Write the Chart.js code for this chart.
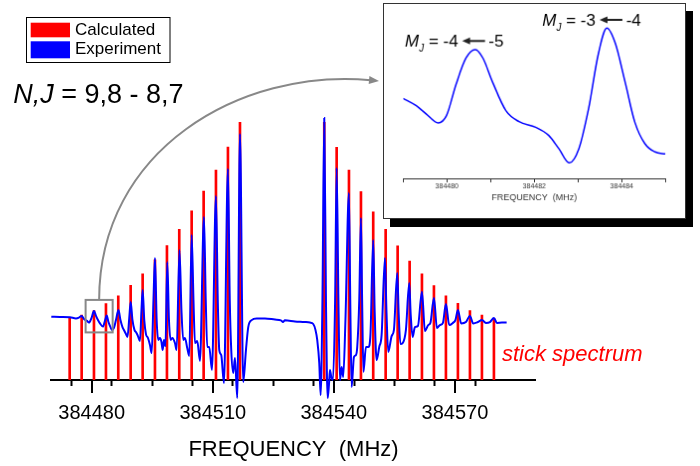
<!DOCTYPE html>
<html>
<head>
<meta charset="utf-8">
<script src="https://cdn.jsdelivr.net/npm/chart.js@4.4.1/dist/chart.umd.min.js"></script>
<style>
  html, body { margin: 0; padding: 0; background: #fff; }
  #wrap { position: relative; width: 700px; height: 466px; overflow: hidden; }
  #main { position: absolute; left: 0; top: 0; display: block; }
  #inset { position: absolute; left: 383px; top: 3px; display: block; background: #fff;
           border: 1px solid #333; box-shadow: 7px 8px 0 #000; }
</style>
</head>
<body>
<div id="wrap">
  <canvas id="main" width="700" height="466"></canvas>
  <canvas id="inset" width="303" height="216"></canvas>
</div>
<script>
// calculated stick spectrum (MHz, relative intensity)
const stickFreq = [
  384474.55, 384477.52, 384480.57, 384483.54, 384486.59, 384489.66, 384492.63, 384495.68,
  384498.65, 384501.70, 384504.77, 384507.74, 384510.79, 384513.76, 384516.74,
  384537.62, 384540.69, 384543.74, 384546.71, 384549.75, 384552.83, 384555.80, 384558.77,
  384561.82, 384564.79, 384567.76, 384570.73, 384573.71, 384576.68, 384579.65
];
const stickCalc = [
  22.0, 23.2, 24.8, 27.3, 30.1, 33.8, 37.9, 42.9, 48.0, 53.8, 60.4, 67.5, 75.0, 83.2, 92.0,
  92.0, 83.1, 75.0, 67.3, 60.1, 53.8, 47.9, 42.5, 37.9, 33.7, 30.1, 27.4, 24.8, 23.2, 22.0
];

// experimental trace
const expFreq = [
  384470.00, 384472.15, 384474.62, 384476.11, 384476.85, 384477.52, 384478.09, 384478.84, 384479.33, 384479.95,
  384480.57, 384481.07, 384481.56, 384482.06, 384482.80, 384483.29, 384483.72, 384484.16, 384484.66, 384485.03,
  384485.52, 384486.02, 384486.64, 384487.13, 384487.63, 384488.12, 384488.50, 384488.87, 384489.31, 384489.66,
  384490.11, 384490.60, 384490.97, 384491.47, 384491.96, 384492.34, 384492.63, 384493.03, 384493.45, 384493.95,
  384494.44, 384494.86, 384495.31, 384495.68, 384496.10, 384496.50, 384496.92, 384497.29, 384497.59, 384497.91,
  384498.28, 384498.73, 384499.15, 384499.57, 384500.01, 384500.63, 384501.05, 384501.75, 384502.24, 384502.69,
  384503.11, 384503.68, 384504.18, 384504.77, 384505.22, 384505.59, 384506.16, 384506.83, 384507.82, 384508.26,
  384508.63, 384509.13, 384509.80, 384510.79, 384511.24, 384511.61, 384512.10, 384512.77, 384513.76, 384514.21,
  384514.58, 384515.07, 384515.50, 384516.07, 384516.74, 384517.55, 384518.22, 384518.79, 384519.63, 384520.87,
  384522.93, 384525.40, 384526.89, 384527.39, 384527.88, 384530.36, 384532.84, 384534.07, 384534.89, 384535.44,
  384535.88, 384536.38, 384536.72, 384537.17, 384537.62, 384538.04, 384538.46, 384538.78, 384539.03, 384539.40,
  384539.77, 384540.31, 384540.69, 384541.13, 384541.50, 384541.93, 384542.32, 384542.87, 384543.73, 384544.06,
  384544.40, 384544.97, 384545.47, 384545.79, 384546.29, 384546.71, 384547.00, 384547.33, 384547.94, 384548.56,
  384549.06, 384549.75, 384550.10, 384550.59, 384551.24, 384551.83, 384552.65, 384553.02, 384553.47, 384554.31,
  384554.88, 384555.70, 384556.07, 384556.49, 384557.04, 384557.85, 384558.67, 384559.04, 384559.51, 384560.08,
  384560.82, 384561.82, 384562.56, 384563.38, 384563.92, 384564.79, 384565.53, 384566.28, 384567.02, 384567.76,
  384568.58, 384569.49, 384570.11, 384570.73, 384571.55, 384572.71, 384573.70, 384574.52, 384575.69, 384576.68,
  384577.67, 384578.66, 384579.65, 384580.39, 384581.63, 384582.80
];
const expSignal = [
  22.6, 22.5, 22.4, 22.0, 22.3, 22.9, 21.8, 21.1, 20.5, 22.1,
  24.6, 22.9, 21.4, 20.2, 19.1, 21.1, 23.0, 20.7, 18.9, 17.9,
  18.6, 21.4, 25.0, 21.4, 18.9, 17.5, 16.4, 15.4, 22.1, 27.9,
  21.4, 17.9, 17.1, 15.7, 13.9, 25.0, 32.1, 21.4, 16.4, 15.0,
  12.5, 9.6, 28.6, 43.6, 21.4, 14.3, 15.0, 13.6, 10.7, 14.3,
  12.1, 42.1, 21.4, 14.3, 15.0, 13.2, 10.7, 46.4, 25.0, 14.3,
  15.0, 11.4, 8.6, 51.8, 28.6, 13.2, 13.9, 6.8, 58.2, 28.6,
  11.8, 11.8, 3.6, 65.7, 28.6, 10.7, 8.9, -1.1, 75.4, 28.6,
  10.7, 2.5, 7.9, -6.4, 87.9, -0.7, 10.7, 18.9, 21.4, 22.0,
  22.0, 21.6, 21.3, 20.7, 21.3, 20.9, 20.7, 20.5, 20.0, 17.9,
  14.3, 6.1, -5.4, 28.6, 93.6, 28.6, -6.4, -1.8, 3.6, 0.7,
  0.0, 28.6, 75.7, 28.6, 0.0, 4.6, 1.1, 21.4, 66.8, 28.6,
  -2.5, 8.2, 8.9, 11.8, 28.6, 57.9, 28.6, 2.9, 11.8, 11.8,
  16.1, 50.0, 25.0, 7.1, 11.8, 16.1, 43.6, 25.0, 10.0, 15.7,
  17.9, 38.2, 23.2, 12.9, 13.2, 17.9, 34.6, 23.2, 15.4, 18.9,
  19.3, 31.5, 17.5, 19.6, 20.4, 29.3, 18.6, 19.6, 20.4, 27.1,
  19.6, 20.4, 21.4, 25.0, 20.2, 20.7, 22.9, 20.2, 20.7, 21.4,
  20.4, 20.7, 22.1, 20.4, 20.5, 20.5
];
const mainTicks = [384480, 384510, 384540, 384570];

// zoomed region shown in the inset: [fMin, fMax, yMin, yMax]
const zoomBox = [384478.5, 384485.2, 17.0, 28.6];

// inset trace
const insetFreq = [
  384479.00, 384479.30, 384479.53, 384479.80, 384479.99, 384480.21, 384480.44, 384480.65, 384480.82, 384481.05,
  384481.35, 384481.65, 384482.03, 384482.33, 384482.56, 384482.80, 384483.02, 384483.24, 384483.47, 384483.66,
  384483.85, 384484.08, 384484.30, 384484.53, 384484.76, 384485.00
];
const insetSignal = [
  50.4, 45.8, 40.6, 35.0, 39.6, 59.4, 76.1, 81.3, 76.1, 60.4,
  42.7, 35.8, 32.3, 27.1, 18.8, 9.8, 18.8, 43.8, 79.2, 94.8,
  85.4, 60.4, 35.4, 21.9, 16.7, 15.4
];
const insetTicks = [384480, 384482, 384484];

const FONT = "'Liberation Sans', Arial, sans-serif";
Chart.defaults.font.family = FONT;
Chart.defaults.color = '#000';

const annotate = {
  id: 'annotate',
  afterDraw(chart) {
    const { ctx, scales: { x, y } } = chart;
    const calc = chart.data.datasets.find(d => d.label === 'Calculated');
    const expd = chart.data.datasets.find(d => d.label === 'Experiment');
    ctx.save();

    // longer marks for the labelled ticks
    ctx.strokeStyle = '#000';
    ctx.lineWidth = 2;
    for (const v of mainTicks) {
      const px = Math.round(x.getPixelForValue(v));
      ctx.beginPath();
      ctx.moveTo(px, x.top);
      ctx.lineTo(px, x.top + 13);
      ctx.stroke();
    }

    // legend
    ctx.lineWidth = 1;
    ctx.strokeRect(26.5, 17.5, 143.5, 45);
    ctx.fillStyle = calc.backgroundColor;
    ctx.fillRect(30.7, 22.7, 39.3, 14.6);
    ctx.fillStyle = expd.borderColor;
    ctx.fillRect(30.7, 41.3, 39.3, 17);
    ctx.fillStyle = '#000';
    ctx.font = '17px ' + FONT;
    ctx.textBaseline = 'middle';
    ctx.fillText(calc.label, 75, 30);
    ctx.fillText(expd.label, 75, 49);

    // transition label
    ctx.textBaseline = 'alphabetic';
    ctx.font = 'italic 27px ' + FONT;
    ctx.fillText('N,J', 13.3, 103.3);
    const w = ctx.measureText('N,J').width;
    ctx.font = '27px ' + FONT;
    ctx.fillText(' = 9,8 - 8,7', 13.3 + w, 103.3);

    // stick spectrum label
    ctx.fillStyle = '#ff0000';
    ctx.font = 'italic 22px ' + FONT;
    ctx.textBaseline = 'middle';
    ctx.fillText('stick spectrum', 502, 355);

    // zoom box and curved arrow to inset
    const bx0 = x.getPixelForValue(zoomBox[0]);
    const bx1 = x.getPixelForValue(zoomBox[1]);
    const by0 = y.getPixelForValue(zoomBox[3]);
    const by1 = y.getPixelForValue(zoomBox[2]);
    ctx.strokeStyle = '#888';
    ctx.fillStyle = '#888';
    ctx.lineWidth = 2;
    ctx.strokeRect(bx0, by0, bx1 - bx0, by1 - by0);
    const sx = (bx0 + bx1) / 2;
    const tip = { x: 379, y: 81 };
    const c2 = { x: 240, y: 68 };
    const ang = Math.atan2(tip.y - c2.y, tip.x - c2.x);
    const ex = tip.x - 8 * Math.cos(ang), ey = tip.y - 8 * Math.sin(ang);
    ctx.beginPath();
    ctx.moveTo(sx, by0);
    ctx.bezierCurveTo(sx, 150, c2.x, c2.y, ex, ey);
    ctx.stroke();
    ctx.beginPath();
    ctx.moveTo(tip.x, tip.y);
    ctx.lineTo(tip.x - 10 * Math.cos(ang) + 4 * Math.sin(ang), tip.y - 10 * Math.sin(ang) - 4 * Math.cos(ang));
    ctx.lineTo(tip.x - 10 * Math.cos(ang) - 4 * Math.sin(ang), tip.y - 10 * Math.sin(ang) + 4 * Math.cos(ang));
    ctx.closePath();
    ctx.fill();
    ctx.restore();
  }
};

new Chart(document.getElementById('main'), {
  type: 'scatter',
  data: {
    datasets: [
      {
        type: 'line',
        label: 'Experiment',
        data: expFreq.map((f, i) => ({ x: f, y: expSignal[i] })),
        borderColor: '#0000ff',
        borderWidth: 2,
        pointRadius: 0,
        cubicInterpolationMode: 'monotone',
        clip: false,
        order: 1,
      },
      {
        type: 'bar',
        label: 'Calculated',
        data: stickFreq.map((f, i) => ({ x: f, y: stickCalc[i] })),
        backgroundColor: '#ff0000',
        borderWidth: 0,
        barThickness: 2,
        order: 2,
      },
    ],
  },
  options: {
    responsive: false,
    animation: false,
    layout: { padding: { left: 51.3, right: 164.3, top: 100, bottom: 0 } },
    plugins: { legend: { display: false }, tooltip: { enabled: false } },
    scales: {
      x: {
        type: 'linear',
        min: 384470,
        max: 384590,
        offset: false,
        grid: {
          drawOnChartArea: false,
          tickLength: 6,
          tickWidth: 2,
          tickColor: (c) => (c.tick && c.tick.value > 384585 ? 'rgba(0,0,0,0)' : '#000'),
        },
        border: { color: '#000', width: 2 },
        ticks: {
          stepSize: 10,
          autoSkip: false,
          maxRotation: 0,
          padding: 15,
          color: '#000',
          font: { size: 20 },
          callback: (v) => (mainTicks.includes(v) ? String(v) : ''),
        },
        title: {
          display: true,
          text: 'FREQUENCY  (MHz)',
          color: '#000',
          font: { size: 22 },
          padding: { top: 0, bottom: 3 },
        },
        afterFit: (s) => { s.height = 86; },
      },
      y: { display: false, min: 0, max: 100 },
    },
  },
  plugins: [annotate],
});

function drawMJ(ctx, x, base, lower, upper) {
  ctx.fillStyle = '#000';
  ctx.textAlign = 'left';
  ctx.textBaseline = 'alphabetic';
  ctx.font = 'italic 17px ' + FONT;
  ctx.fillText('M', x, base);
  x += ctx.measureText('M').width;
  ctx.font = 'italic 10px ' + FONT;
  ctx.fillText('J', x, base + 5);
  x += ctx.measureText('J').width;
  ctx.font = '17px ' + FONT;
  const mid = ' = ' + lower;
  ctx.fillText(mid, x, base);
  x += ctx.measureText(mid).width + 4;
  const ay = base - 6;
  ctx.strokeStyle = '#222';
  ctx.fillStyle = '#222';
  ctx.lineWidth = 2;
  ctx.beginPath();
  ctx.moveTo(x + 6, ay);
  ctx.lineTo(x + 23, ay);
  ctx.stroke();
  ctx.beginPath();
  ctx.moveTo(x, ay);
  ctx.lineTo(x + 8, ay - 3.5);
  ctx.lineTo(x + 8, ay + 3.5);
  ctx.closePath();
  ctx.fill();
  ctx.fillStyle = '#000';
  ctx.fillText(' ' + upper, x + 22, base);
}

const mjLabels = {
  id: 'mjLabels',
  afterDraw(chart) {
    const ctx = chart.ctx;
    ctx.save();
    drawMJ(ctx, 21, 43.3, '-4', '-5');
    drawMJ(ctx, 159.3, 22, '-3', '-4');
    ctx.restore();
  }
};

new Chart(document.getElementById('inset'), {
  type: 'scatter',
  data: {
    datasets: [{
      type: 'line',
      label: 'Experiment',
      data: insetFreq.map((f, i) => ({ x: f, y: insetSignal[i] })),
      borderColor: '#0000ff',
      borderWidth: 1.5,
      pointRadius: 0,
      cubicInterpolationMode: 'monotone',
    }],
  },
  options: {
    responsive: false,
    animation: false,
    layout: { padding: { left: 19.3, right: 19.7, top: 16, bottom: 0 } },
    plugins: { legend: { display: false }, tooltip: { enabled: false } },
    scales: {
      x: {
        type: 'linear',
        min: 384479,
        max: 384485,
        grid: { drawOnChartArea: false, tickLength: 4, tickWidth: 1, tickColor: '#333' },
        border: { color: '#333', width: 1 },
        ticks: {
          stepSize: 1,
          autoSkip: false,
          maxRotation: 0,
          padding: 0,
          color: '#333',
          font: { size: 7 },
          callback: (v) => (insetTicks.includes(v) ? String(v) : ''),
        },
        title: {
          display: true,
          text: 'FREQUENCY  (MHz)',
          color: '#333',
          font: { size: 9 },
          padding: { top: 0, bottom: 14.6 },
        },
        afterFit: (s) => { s.height = 40; },
      },
      y: { display: false, min: 0, max: 100 },
    },
  },
  plugins: [mjLabels],
});
</script>
</body>
</html>
